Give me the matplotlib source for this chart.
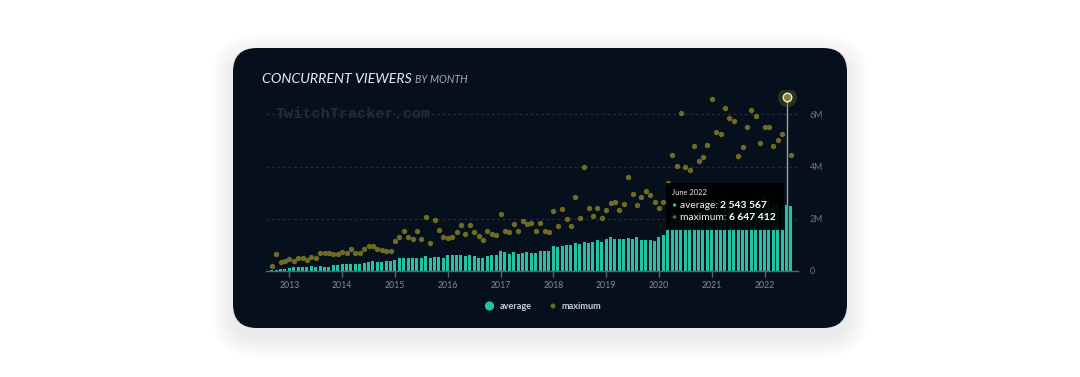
import matplotlib
matplotlib.use("Agg")
import matplotlib.pyplot as plt
from matplotlib.patches import FancyBboxPatch, Rectangle, Circle
import numpy as np
import pandas as pd

W, H, DPI = 1080, 377, 100

# ---------------- data ----------------
months = pd.period_range("2012-09", "2022-07", freq="M")

average = [
    0.04, 0.05, 0.08, 0.08,
    0.11, 0.14, 0.17, 0.17, 0.17, 0.19, 0.17, 0.20, 0.17, 0.17, 0.23, 0.23,
    0.27, 0.28, 0.28, 0.28, 0.28, 0.30, 0.34, 0.37, 0.34, 0.34, 0.37, 0.37,
    0.44, 0.48, 0.48, 0.48, 0.48, 0.48, 0.51, 0.57, 0.48, 0.53, 0.53, 0.51,
    0.60, 0.60, 0.62, 0.60, 0.57, 0.60, 0.57, 0.48, 0.51, 0.57, 0.60, 0.62,
    0.76, 0.71, 0.66, 0.71, 0.66, 0.69, 0.71, 0.69, 0.69, 0.75, 0.77, 0.75,
    0.95, 0.90, 0.95, 0.98, 1.00, 1.07, 1.04, 1.12, 1.09, 1.12, 1.18, 1.12,
    1.23, 1.30, 1.23, 1.21, 1.23, 1.26, 1.21, 1.32, 1.18, 1.18, 1.18, 1.14,
    1.32, 1.37, 1.65, 2.25, 2.20, 2.20, 2.10, 2.05, 2.15, 2.25, 2.30, 2.35,
    2.55, 2.60, 2.60, 2.75, 2.65, 2.60, 2.55, 2.70, 2.50, 2.70, 2.75, 2.65,
    2.90, 2.75, 2.60, 2.55, 2.50, 2.543567, 2.49,
]
maximum = [
    0.19, 0.64, 0.34, 0.37,
    0.46, 0.39, 0.51, 0.51, 0.42, 0.53, 0.51, 0.69, 0.69, 0.69, 0.66, 0.64,
    0.74, 0.69, 0.83, 0.69, 0.69, 0.83, 0.94, 0.97, 0.85, 0.80, 0.76, 0.76,
    1.15, 1.29, 1.52, 1.32, 1.23, 1.54, 1.23, 2.06, 1.08, 1.97, 1.58, 1.29,
    1.26, 1.29, 1.49, 1.78, 1.40, 1.76, 1.49, 1.35, 1.17, 1.55, 1.40, 1.37,
    2.20, 1.52, 1.49, 1.81, 1.52, 1.92, 1.81, 1.82, 1.53, 1.84, 1.53, 1.49,
    2.30, 1.74, 2.37, 2.00, 1.72, 2.84, 2.03, 4.00, 2.40, 2.09, 2.40, 2.01,
    2.34, 2.61, 2.63, 2.34, 2.58, 3.59, 2.95, 2.52, 2.85, 3.06, 2.90, 2.63,
    2.40, 2.66, 3.38, 4.45, 4.02, 6.06, 3.97, 3.85, 4.80, 4.22, 4.36, 4.84,
    6.58, 5.34, 5.23, 6.23, 5.84, 5.76, 4.39, 4.73, 5.51, 6.17, 5.95, 4.90,
    5.51, 5.51, 4.77, 5.03, 5.23, 6.647412, 4.45,
]
year_ticks = [2013, 2014, 2015, 2016, 2017, 2018, 2019, 2020, 2021, 2022]
y_ticks = [0, 2, 4, 6]
y_tick_labels = ["0", "2M", "4M", "6M"]
series_names = ["average", "maximum"]
highlight_month = "2022-06"
tooltip_title = "June 2022"
tooltip_avg = "2 543 567"
tooltip_max = "6 647 412"
title_main = "CONCURRENT VIEWERS"
title_sub = "BY MONTH"
watermark = "TwitchTracker.com"

# ---------------- style ----------------
TEAL = "#21c3a3"
OLIVE = "#6f6b22"
PANEL = "#06101c"
FONT = "Lato"

xs = np.array(months.year + (months.month - 1) / 12.0, dtype=float)
avg = np.array(average) * 1e6
mx = np.array(maximum) * 1e6
hi = list(months.astype(str)).index(highlight_month)

fig = plt.figure(figsize=(W / DPI, H / DPI), dpi=DPI, facecolor="white")

# background overlay axes in pixel coordinates
bg = fig.add_axes([0, 0, 1, 1], zorder=-1)
bg.set_xlim(0, W)
bg.set_ylim(H, 0)
bg.axis("off")

# soft shadow
for i in range(10):
    e = 2 + i * 2.2
    bg.add_patch(FancyBboxPatch((233 - e, 48 - e + 8), 614 + 2 * e, 280 + 2 * e,
                                boxstyle=f"round,pad=0,rounding_size={24 + e}",
                                facecolor="#1a2030", edgecolor="none", alpha=0.007))
bg.add_patch(FancyBboxPatch((233, 48), 614, 280, boxstyle="round,pad=0,rounding_size=24",
                            facecolor=PANEL, edgecolor="none"))

t1 = bg.text(262, 83, title_main, fontsize=10.2, style="italic", family=FONT,
             color="#e6ebf0", va="baseline", ha="left")
bg.text(276, 114, watermark, family="Liberation Mono", weight="bold", fontsize=10.9,
        color="#232c36", va="center", ha="left")

# legend
bg.add_patch(Circle((489.5, 306), 4.6, facecolor=TEAL, edgecolor="none"))
bg.text(500, 306.5, series_names[0], family=FONT, weight="bold", fontsize=6.6,
        color="#c8cdd3", va="center", ha="left")
bg.add_patch(Circle((553, 306), 2.4, facecolor=OLIVE, edgecolor="none"))
bg.text(562, 306.5, series_names[1], family=FONT, weight="bold", fontsize=6.6,
        color="#c8cdd3", va="center", ha="left")

# main axes
x0, x1 = 265.5, 798
ybase, ytop = 271, 90
ax = fig.add_axes([x0 / W, 1 - ybase / H, (x1 - x0) / W, (ybase - ytop) / H], zorder=1)
ax.set_facecolor("none")
px_per_year = 52.8
ax.set_xlim(2013 - (289.3 - x0) / px_per_year, 2013 + (x1 - 289.3) / px_per_year)
px_per_M = 26.12
ax.set_ylim(0, (ybase - ytop) / px_per_M * 1e6)

for y in y_ticks[1:]:
    ax.axhline(y * 1e6, color="#222c37", lw=0.9, ls=(0, (2.2, 2.2)), zorder=0.5)

ax.plot([xs[hi], xs[hi]], [0, mx[hi]], color="#9aa1a8", lw=1.0, zorder=1.5)
ax.bar(xs, avg, width=0.68 / 12, color=TEAL, zorder=2, linewidth=0)
ax.scatter(xs, mx, s=15, color=OLIVE, zorder=3, linewidths=0)
# hovered point
ax.scatter([xs[hi]], [mx[hi]], s=190, color=OLIVE, alpha=0.35, zorder=3.5, linewidths=0)
ax.scatter([xs[hi]], [mx[hi]], s=38, facecolor="#878230", edgecolor="#ecebd6",
           linewidths=1.0, zorder=4)

for s in ["top", "left", "right"]:
    ax.spines[s].set_visible(False)
ax.spines["bottom"].set_color("#59636d")
ax.spines["bottom"].set_linewidth(1)
ax.set_xticks(year_ticks)
ax.set_xticklabels([str(y) for y in year_ticks])
ax.tick_params(axis="x", direction="out", length=4.5, width=1, color="#59636d",
               labelcolor="#828b94", labelsize=6.3, pad=2.5)
for lab in ax.get_xticklabels():
    lab.set_family(FONT)
ax.yaxis.tick_right()
ax.set_yticks([v * 1e6 for v in y_ticks])
ax.set_yticklabels(y_tick_labels)
ax.tick_params(axis="y", length=0, labelcolor="#6f7882", labelsize=6.4, pad=8.5)
for lab in ax.get_yticklabels():
    lab.set_family(FONT)
    lab.set_horizontalalignment("left")

# tooltip overlay
fg = fig.add_axes([0, 0, 1, 1], zorder=5)
fg.set_xlim(0, W)
fg.set_ylim(H, 0)
fg.axis("off")
fg.patch.set_alpha(0)
fg.add_patch(Rectangle((666, 182.5), 118, 47.5, facecolor="#000000", edgecolor="none", alpha=0.93))
fg.text(672, 195, tooltip_title, family=FONT, fontsize=5.4, color="#e8e8e8", va="baseline")
fg.add_patch(Circle((674.5, 205), 1.7, facecolor=TEAL, edgecolor="none"))
fg.add_patch(Circle((674.5, 217), 1.7, facecolor=OLIVE, edgecolor="none"))
ta = fg.text(679.5, 208.5, "average: ", family=FONT, fontsize=7.4, color="#f0f0f0", va="baseline")
tm = fg.text(679.5, 220.5, "maximum: ", family=FONT, fontsize=7.4, color="#f0f0f0", va="baseline")

fig.canvas.draw()
r = fig.canvas.get_renderer()
inv = fg.transData.inverted()
bx = inv.transform((ta.get_window_extent(r).x1, 0))[0]
fg.text(bx, 208.5, tooltip_avg, family=FONT, weight="bold", fontsize=7.4, color="#ffffff", va="baseline")
bx = inv.transform((tm.get_window_extent(r).x1, 0))[0]
fg.text(bx, 220.5, tooltip_max, family=FONT, weight="bold", fontsize=7.4, color="#ffffff", va="baseline")
inv_bg = bg.transData.inverted()
tx = inv_bg.transform((t1.get_window_extent(r).x1, 0))[0]
bg.text(tx + 3.5, 83, title_sub, fontsize=7.6, style="italic", family=FONT,
        color="#a4acb5", va="baseline", ha="left")

fig.savefig("out.png", dpi=DPI, facecolor="white")
